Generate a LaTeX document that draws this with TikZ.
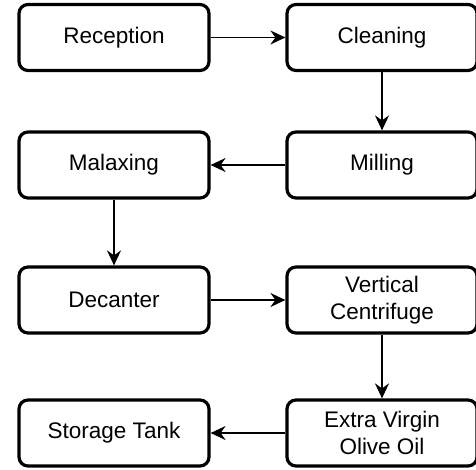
\documentclass[tikz,border=0pt]{standalone}
\usepackage{fontspec}
\setmainfont{Liberation Sans}
\usetikzlibrary{arrows.meta}

\tikzset{
  stage/.style={draw,line width=3.2bp,rounded corners=9bp,minimum width=190bp,
    minimum height=66bp,align=center,font=\fontsize{22.5bp}{27bp}\selectfont,
    inner sep=0pt},
  flow/.style={line width=1.7bp,-{Stealth[length=15bp,width=14bp,inset=5bp]}}
}

\begin{document}
\begin{tikzpicture}[x=1bp,y=-1bp]
\useasboundingbox (0,0) rectangle (476,470);

\node[stage] (reception) at (114,37.5) {Reception};
\node[stage] (cleaning) at (382,37.5) {Cleaning};
\node[stage] (milling) at (382,165) {Milling};
\node[stage] (malaxing) at (114,165) {Malaxing};
\node[stage] (decanter) at (114,300) {Decanter};
\node[stage] (centrifuge) at (382,300) {Vertical\\Centrifuge};
\node[stage] (evoo) at (382,433) {Extra Virgin\\Olive Oil};
\node[stage] (tank) at (114,433) {Storage Tank};

\draw[flow] (reception) -- (cleaning);
\draw[flow] (cleaning) -- (milling);
\draw[flow] (milling) -- (malaxing);
\draw[flow] (malaxing) -- (decanter);
\draw[flow] (decanter) -- (centrifuge);
\draw[flow] (centrifuge) -- (evoo);
\draw[flow] (evoo) -- (tank);

\end{tikzpicture}
\end{document}
